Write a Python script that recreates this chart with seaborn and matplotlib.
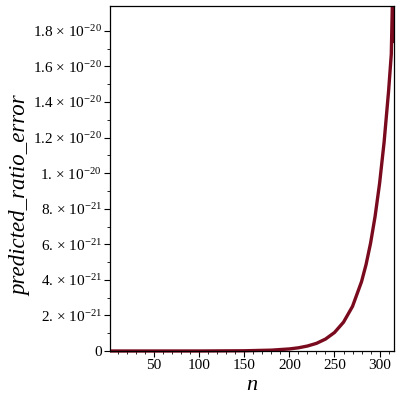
import matplotlib
matplotlib.use("Agg")
import matplotlib.pyplot as plt
from matplotlib.patches import Rectangle
import seaborn as sns
import pandas as pd
import numpy as np

# ---- data ----
n_vals = [1, 50, 100, 150, 180, 200, 210, 220, 230, 240, 250, 260, 270, 280,
          285, 290, 295, 300, 305, 310, 313, 315, 316]
err_vals = [0.0, 0.0002e-21, 0.001e-21, 0.013e-21, 0.048e-21, 0.116e-21, 0.18e-21,
            0.28e-21, 0.43e-21, 0.67e-21, 1.04e-21, 1.62e-21, 2.51e-21, 3.90e-21,
            4.86e-21, 6.06e-21, 7.56e-21, 9.42e-21, 11.73e-21, 14.62e-21,
            16.69e-21, 21.5e-21, 17.4e-21]

ytick_vals = [0, 2e-21, 4e-21, 6e-21, 8e-21, 1e-20, 1.2e-20, 1.4e-20, 1.6e-20, 1.8e-20]
ytick_labels = ["0",
                "2. × 10$^{-21}$", "4. × 10$^{-21}$", "6. × 10$^{-21}$", "8. × 10$^{-21}$",
                "1. × 10$^{-20}$", "1.2 × 10$^{-20}$", "1.4 × 10$^{-20}$",
                "1.6 × 10$^{-20}$", "1.8 × 10$^{-20}$"]
xtick_vals = [50, 100, 150, 200, 250, 300]

df = pd.DataFrame({"n": n_vals, "err": err_vals})

sns.set_style("ticks")
plt.rcParams["font.family"] = ["Liberation Serif", "DejaVu Serif"]
plt.rcParams["mathtext.fontset"] = "custom"
plt.rcParams["mathtext.rm"] = "Liberation Serif"
plt.rcParams["mathtext.default"] = "regular"
plt.rcParams["text.color"] = "black"
plt.rcParams["axes.labelcolor"] = "black"
plt.rcParams["xtick.color"] = "black"
plt.rcParams["ytick.color"] = "black"

fig = plt.figure(figsize=(4, 4), dpi=100)
ax = fig.add_axes([0.275, 0.1225, 0.71, 0.8625])

sns.lineplot(data=df, x="n", y="err", ax=ax, color="#7a0a1e", linewidth=2.4)
line = ax.lines[0]
clip = Rectangle((0, -0.01), 1, 1.01, transform=ax.transAxes, facecolor="none", edgecolor="none")
line.set_clip_path(clip)

ax.set_xlim(1, 316)
ax.set_ylim(0, 1.94e-20)

ax.set_yticks(ytick_vals)
ax.set_yticklabels(ytick_labels, fontsize=11)
ax.set_yticks(np.array(ytick_vals[:-1]) + 1e-21, minor=True)
ax.set_xticks(xtick_vals)
ax.set_xticklabels([str(v) for v in xtick_vals], fontsize=11)
ax.set_xticks(list(range(10, 316, 10)), minor=True)

ax.tick_params(axis="both", which="major", length=4, width=0.8, color="black", pad=2)
ax.tick_params(axis="both", which="minor", length=2.5, width=0.6, color="black")

for s in ax.spines.values():
    s.set_color("black")
    s.set_linewidth(0.9)

ax.set_xlabel("n", fontsize=16, style="italic", labelpad=3)
ax.set_ylabel("predicted_ratio_error", fontsize=16.5, style="italic")
ax.yaxis.set_label_coords(-0.277, 0.45)

fig.savefig("out.png", dpi=100, facecolor="white")
